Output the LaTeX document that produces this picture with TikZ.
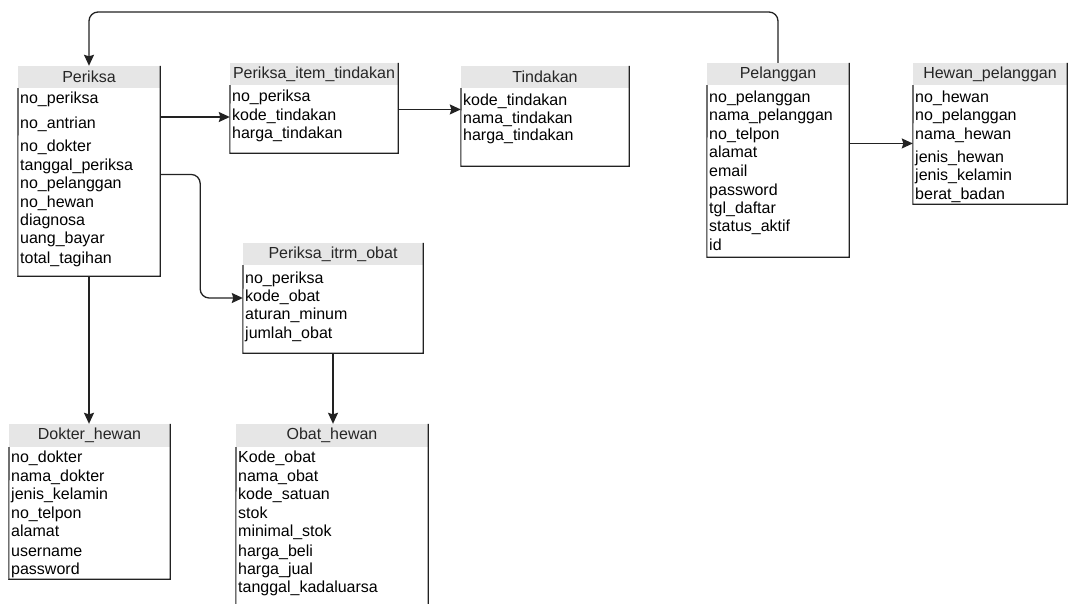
\documentclass[tikz,border=0pt]{standalone}
\usepackage{fontspec}
\setmainfont{Liberation Sans}
\usetikzlibrary{arrows.meta, fit}
\definecolor{headgray}{HTML}{E6E6E6}
\definecolor{linegray}{HTML}{222222}
% table frame: name, left, right, top, header bottom, bottom
\newcommand{\erdbox}[6]{%
  \fill[headgray] (#2,#4) rectangle (#3,#5);
  \node[fit={(#2,#4) (#3,#6)}, inner sep=0pt] (#1) {};
  \coordinate (#1-head) at ({(#2+#3)/2},{(#4+#5)/2});
  \draw[tblline] (#1.north east) -- (#1.south east) -- (#1.south west) -- (#2,#5);
}

\begin{document}
\begin{tikzpicture}[x=1pt, y=-1pt, >={Stealth[length=11pt,width=10pt,inset=1.5pt]},
  tblline/.style={draw=linegray, line width=1.1pt},
  conn/.style={->, draw=linegray, line width=1.3pt, rounded corners=9pt},
  tbltitle/.style={inner sep=0pt, text=black!85, font=\fontsize{16}{19}\selectfont},
  tblrow/.style={anchor=west, inner sep=0pt, text height=11pt, text depth=3.5pt,
    font=\fontsize{16}{19}\selectfont}]
  \useasboundingbox (0,0) rectangle (1070,603);

  % Periksa
  \erdbox{periksa}{18}{160}{66}{88}{276}
  \node[tbltitle] (per-title) at (periksa-head) {Periksa};
  \foreach \txt/\yy [count=\i] in {no\_periksa/100, no\_antrian/125, no\_dokter/148,
      tanggal\_periksa/167, no\_pelanggan/185, no\_hewan/204, diagnosa/222,
      uang\_bayar/240, total\_tagihan/260}
    \node[tblrow] (per-r\i) at (20,\yy) {\txt};

  % Periksa_item_tindakan
  \erdbox{pit}{230}{398}{63}{85}{153}
  \node[tbltitle] (pit-title) at (pit-head) {Periksa\_item\_tindakan};
  \foreach \txt/\yy [count=\i] in {no\_periksa/98, kode\_tindakan/117, harga\_tindakan/135}
    \node[tblrow] (pit-r\i) at (232,\yy) {\txt};

  % Tindakan
  \erdbox{tindakan}{461}{629}{66}{88}{166}
  \node[tbltitle] (tin-title) at (tindakan-head) {Tindakan};
  \foreach \txt/\yy [count=\i] in {kode\_tindakan/102, nama\_tindakan/120, harga\_tindakan/137}
    \node[tblrow] (tin-r\i) at (463,\yy) {\txt};

  % Pelanggan
  \erdbox{pelanggan}{707}{849}{63}{85}{257}
  \node[tbltitle] (pel-title) at (pelanggan-head) {Pelanggan};
  \foreach \txt/\yy [count=\i] in {no\_pelanggan/99, nama\_pelanggan/117, no\_telpon/136,
      alamat/154, email/173, password/192, tgl\_daftar/210, status\_aktif/228, id/247}
    \node[tblrow] (pel-r\i) at (709,\yy) {\txt};

  % Hewan_pelanggan
  \erdbox{hewan}{913}{1067}{63}{85}{204}
  \node[tbltitle] (hew-title) at (hewan-head) {Hewan\_pelanggan};
  \foreach \txt/\yy [count=\i] in {no\_hewan/99, no\_pelanggan/117, nama\_hewan/136,
      jenis\_hewan/159, jenis\_kelamin/177, berat\_badan/196}
    \node[tblrow] (hew-r\i) at (915,\yy) {\txt};

  % Periksa_itrm_obat
  \erdbox{pio}{243}{423}{243}{265}{353}
  \node[tbltitle] (pio-title) at (pio-head) {Periksa\_itrm\_obat};
  \foreach \txt/\yy [count=\i] in {no\_periksa/280, kode\_obat/298, aturan\_minum/316,
      jumlah\_obat/335}
    \node[tblrow] (pio-r\i) at (245,\yy) {\txt};

  % Dokter_hewan
  \erdbox{dokter}{9}{170}{424}{447}{579}
  \node[tbltitle] (dok-title) at (dokter-head) {Dokter\_hewan};
  \foreach \txt/\yy [count=\i] in {no\_dokter/459, nama\_dokter/478, jenis\_kelamin/496,
      no\_telpon/515, alamat/533, username/553, password/571}
    \node[tblrow] (dok-r\i) at (11,\yy) {\txt};

  % Obat_hewan (runs past the bottom edge)
  \erdbox{obat}{236}{428}{424}{447}{612}
  \node[tbltitle] (obt-title) at (obat-head) {Obat\_hewan};
  \foreach \txt/\yy [count=\i] in {Kode\_obat/459, nama\_obat/478, kode\_satuan/496,
      stok/515, minimal\_stok/533, harga\_beli/553, harga\_jual/571,
      tanggal\_kadaluarsa/589}
    \node[tblrow] (obt-r\i) at (238,\yy) {\txt};

  % relations
  \coordinate (topbend) at (0,12);
  \draw[conn] (pelanggan.north) -- (pelanggan.north |- topbend)
    -- (periksa.north |- topbend) -- (periksa.north);
  \draw[conn] (periksa.east |- pit-r2) -- (pit.west |- pit-r2);
  \draw[conn] (pit.east |- tin-r1.south) -- (tindakan.west |- tin-r1.south);
  \draw[conn] (periksa.east |- per-r4.south) -| ([xshift=40pt]periksa.east |- pio-r2)
    -- (pio.west |- pio-r2);
  \draw[conn] (periksa.south) -- (periksa.south |- dokter.north);
  \draw[conn] (pio.south) -- (pio.south |- obat.north);
  \draw[conn] (pelanggan.east |- hew-r3.south) -- (hewan.west |- hew-r3.south);
\end{tikzpicture}
\end{document}
